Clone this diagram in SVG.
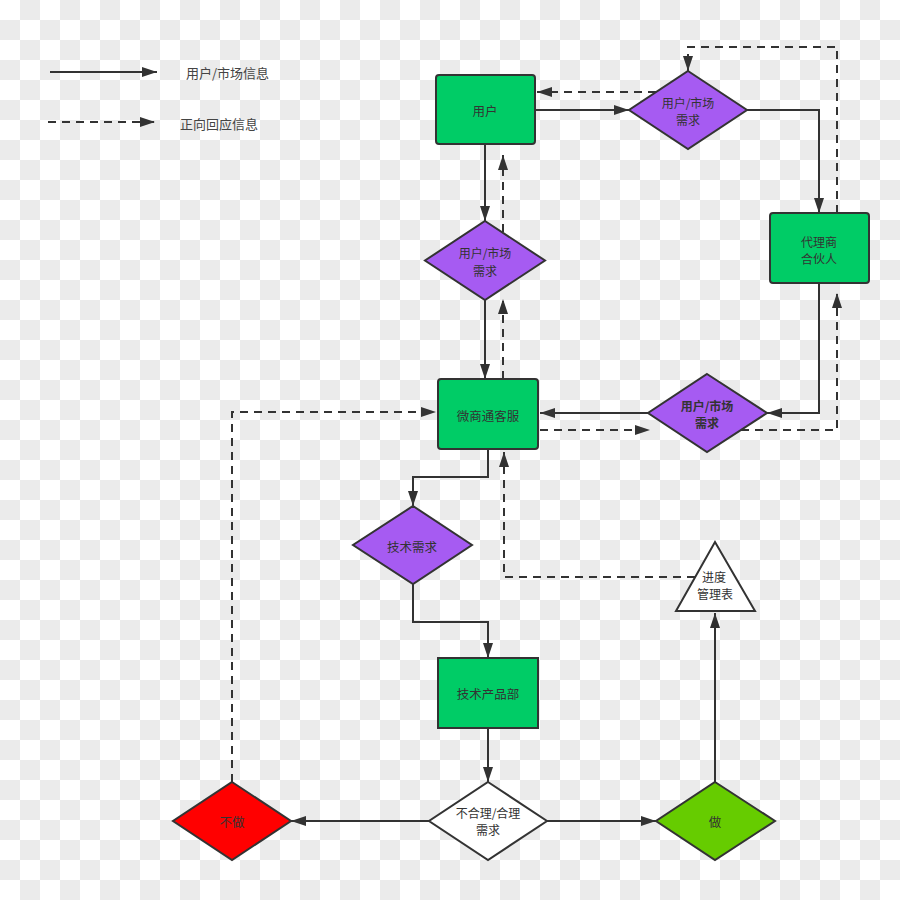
<svg xmlns="http://www.w3.org/2000/svg" width="900" height="900" viewBox="0 0 900 900">
<defs>
<pattern id="checker" width="40" height="40" patternUnits="userSpaceOnUse">
<rect width="40" height="40" fill="#ffffff"/>
<rect x="20" y="0" width="20" height="20" fill="#ebebeb"/>
<rect x="0" y="20" width="20" height="20" fill="#ebebeb"/>
</pattern>
<marker id="arr" markerUnits="userSpaceOnUse" markerWidth="16" markerHeight="12" refX="15" refY="5" orient="auto">
<path d="M0,0 L15,5 L0,10 z" fill="#333"/>
</marker>
</defs>
<style>
.ln{fill:none;stroke:#333;stroke-width:2;marker-end:url(#arr)}
.dash{stroke-dasharray:8 6}
.box{stroke:#333;stroke-width:2}
.g{fill:#00cc66}
.p{fill:#a65bf2}
.t{font-family:"Noto Sans CJK SC","Noto Sans",sans-serif;font-size:12.5px;fill:#333;text-anchor:middle;dominant-baseline:central}
.t2{font-family:"Noto Sans CJK SC","Noto Sans",sans-serif;font-size:12px;fill:#333;text-anchor:middle;dominant-baseline:central}
.lg{font-family:"Noto Sans CJK SC","Noto Sans",sans-serif;font-size:13px;fill:#444;dominant-baseline:central}
</style>
<rect width="900" height="900" fill="url(#checker)"/>

<g id="legend">
<path class="ln" d="M50,72 H157"/>
<text class="lg" x="186" y="72">用户/市场信息</text>
<path class="ln dash" d="M48,122 H155"/>
<text class="lg" x="180" y="123">正向回应信息</text>
</g>

<g id="connectors">
<path class="ln" d="M535,110 H629"/>
<path class="ln dash" d="M656,92 H537"/>
<path class="ln" d="M747,110 H819 V213"/>
<path class="ln dash" d="M837,213 V47 H688 V71"/>
<path class="ln" d="M819,283 V413 H767"/>
<path class="ln dash" d="M741,430 H837 V293"/>
<path class="ln" d="M648,413 H540"/>
<path class="ln dash" d="M540,430 H650"/>
<path class="ln" d="M485,144 V221"/>
<path class="ln dash" d="M503,232 V155"/>
<path class="ln" d="M485,300 V379"/>
<path class="ln dash" d="M503,379 V299"/>
<path class="ln" d="M488,449 V477 H413 V506"/>
<path class="ln dash" d="M695,577 H504 V452"/>
<path class="ln" d="M413,584 V622 H488 V658"/>
<path class="ln" d="M488,728 V782"/>
<path class="ln" d="M429,821 H291"/>
<path class="ln" d="M547,821 H656"/>
<path class="ln" d="M715,782 V613"/>
<path class="ln dash" d="M232,782 V412 H436"/>
</g>

<g id="user">
<rect class="box g" x="436" y="75" width="99" height="69" rx="3"/>
<text class="t" x="485" y="110">用户</text>
</g>

<g id="demand-top">
<polygon class="box p" points="688,71 747,110 688,149 629,110"/>
<text class="t2" x="688" y="102">用户/市场</text>
<text class="t2" x="688" y="119.8">需求</text>
</g>

<g id="agent">
<rect class="box g" x="770" y="213" width="99" height="70" rx="3"/>
<text class="t2" x="819" y="241">代理商</text>
<text class="t2" x="819" y="258.8">合伙人</text>
</g>

<g id="demand-left">
<polygon class="box p" points="485,221 545,260.5 485,300 425,260.5"/>
<text class="t2" x="485" y="252.5">用户/市场</text>
<text class="t2" x="485" y="270.3">需求</text>
</g>

<g id="demand-right">
<polygon class="box p" points="707,374 767,413 707,452 648,413"/>
<text class="t2" x="707" y="405" font-weight="bold">用户/市场</text>
<text class="t2" x="707" y="422.8" font-weight="bold">需求</text>
</g>

<g id="service">
<rect class="box g" x="438" y="379" width="100" height="70" rx="3"/>
<text class="t" x="488" y="415">微商通客服</text>
</g>

<g id="tech-demand">
<polygon class="box p" points="413,506 472,545 413,584 353,545"/>
<text class="t" x="412" y="546">技术需求</text>
</g>

<g id="progress">
<polygon class="box" fill="#ffffff" points="715,542 755,611 676,611"/>
<text class="t2" x="714" y="576">进度</text>
<text class="t2" x="715" y="593.8">管理表</text>
</g>

<g id="tech-dept">
<rect class="box g" x="438" y="658" width="100" height="70"/>
<text class="t" x="488" y="693">技术产品部</text>
</g>

<g id="judge">
<polygon class="box" fill="#ffffff" points="488,782 547,821 488,860 429,821"/>
<text class="t2" x="488" y="812">不合理/合理</text>
<text class="t2" x="488" y="829.8">需求</text>
</g>

<g id="no">
<polygon class="box" fill="#ff0000" points="232,782 291,821 232,860 173,821"/>
<text class="t" x="232" y="821">不做</text>
</g>

<g id="yes">
<polygon class="box" fill="#66cc00" points="715,782 775,821 715,860 656,821"/>
<text class="t" x="715" y="821">做</text>
</g>
</svg>
